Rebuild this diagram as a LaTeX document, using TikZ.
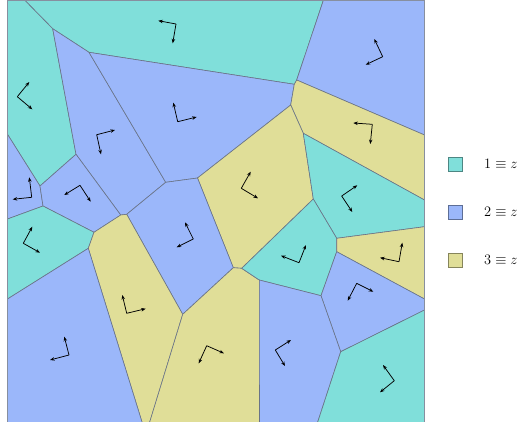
\documentclass[tikz,border=0pt]{standalone}
\usepackage{amsmath}
\usepackage{amssymb}
\usepackage{xcolor}
\usepackage{tikz}
\usetikzlibrary{positioning,arrows.meta}
\definecolor{cellcyan}{RGB}{128, 223, 218}
\definecolor{cellblue}{RGB}{155, 183, 250}
\definecolor{cellyellow}{RGB}{224, 222, 152}
\definecolor{celledge}{RGB}{105, 115, 135}

\newcommand{\rotframe}[3]{%
  \draw[axis] #1 -- #2;
  \draw[axis] #1 -- #3;}

\begin{document}
\begin{tikzpicture}[x=1pt, y=-1pt,
  cell/.style={draw=celledge, line width=0.6pt, line join=round},
  axis/.style={-{Stealth[length=4.5pt, width=3.5pt]}, line width=0.75pt, black},
  legbox/.style={draw=#1!60!black, fill=#1, line width=0.7pt, minimum size=14pt, inner sep=0pt, outer sep=0pt},
  legtext/.style={inner sep=0pt, font=\fontsize{15.5}{18}\selectfont}]
\clip (0,0) rectangle (522,421);

% border points
\coordinate (tl) at (7.5,0.5);
\coordinate (tr) at (424.5,0.5);
\coordinate (bl) at (7.5,423);
\coordinate (br) at (424.5,423);
\coordinate (t1) at (25,0.5);
\coordinate (t2) at (323.3,0.5);
\coordinate (l1) at (7.5,134.3);
\coordinate (l2) at (7.5,219);
\coordinate (l3) at (7.5,299);
\coordinate (r1) at (424.5,135);
\coordinate (r2) at (424.5,200);
\coordinate (r3) at (424.5,226.7);
\coordinate (r4) at (424.5,299);
\coordinate (r5) at (424.5,310);
\coordinate (b1) at (142.3,423);
\coordinate (b2) at (149.4,423);
\coordinate (b3) at (259.5,423);
\coordinate (b4) at (317.4,423);

% inner vertices
\coordinate (a) at (52.7,28.7);
\coordinate (b) at (89,52.3);
\coordinate (c1) at (296.7,80);
\coordinate (c2) at (294.3,84.3);
\coordinate (d) at (76,154.3);
\coordinate (e) at (40,186);
\coordinate (f1) at (120.7,215);
\coordinate (f2) at (126.7,214.3);
\coordinate (g) at (43,206);
\coordinate (h) at (94,232.3);
\coordinate (i) at (165.7,182.3);
\coordinate (j) at (182.7,314.3);
\coordinate (k) at (88.3,248.3);
\coordinate (l) at (233.3,267.7);
\coordinate (lb) at (241.7,268.3);
\coordinate (m) at (197.5,178);
\coordinate (n) at (290.7,105);
\coordinate (o) at (303.3,133.3);
\coordinate (q) at (313.3,199);
\coordinate (r) at (336.7,238.3);
\coordinate (rb) at (336.7,251.7);
\coordinate (s) at (321,295.7);
\coordinate (t) at (259.3,280);
\coordinate (u) at (340.7,351.7);

% cells
\filldraw[cell, fill=cellcyan] (t1) -- (t2) -- (c1) -- (c2) -- (b) -- (a) -- cycle;
\filldraw[cell, fill=cellcyan] (tl) -- (t1) -- (a) -- (d) -- (e) -- (l1) -- cycle;
\filldraw[cell, fill=cellblue] (a) -- (b) -- (i) -- (f2) -- (f1) -- (d) -- cycle;
\filldraw[cell, fill=cellblue] (b) -- (c2) -- (n) -- (m) -- (i) -- cycle;
\filldraw[cell, fill=cellblue] (t2) -- (tr) -- (r1) -- (c1) -- cycle;
\filldraw[cell, fill=cellyellow] (c1) -- (r1) -- (r2) -- (o) -- (n) -- (c2) -- cycle;
\filldraw[cell, fill=cellblue] (l1) -- (e) -- (g) -- (l2) -- cycle;
\filldraw[cell, fill=cellblue] (e) -- (d) -- (f1) -- (h) -- (g) -- cycle;
\filldraw[cell, fill=cellyellow] (m) -- (n) -- (o) -- (q) -- (lb) -- (l) -- cycle;
\filldraw[cell, fill=cellcyan] (o) -- (r2) -- (r3) -- (r) -- (q) -- cycle;
\filldraw[cell, fill=cellcyan] (l2) -- (g) -- (h) -- (k) -- (l3) -- cycle;
\filldraw[cell, fill=cellblue] (i) -- (m) -- (l) -- (j) -- (f2) -- cycle;
\filldraw[cell, fill=cellyellow] (f1) -- (f2) -- (j) -- (b2) -- (b1) -- (k) -- (h) -- cycle;
\filldraw[cell, fill=cellblue] (l3) -- (k) -- (b1) -- (bl) -- cycle;
\filldraw[cell, fill=cellyellow] (j) -- (l) -- (lb) -- (t) -- (b3) -- (b2) -- cycle;
\filldraw[cell, fill=cellcyan] (q) -- (r) -- (rb) -- (s) -- (t) -- (lb) -- cycle;
\filldraw[cell, fill=cellyellow] (r) -- (r3) -- (r4) -- (rb) -- cycle;
\filldraw[cell, fill=cellblue] (rb) -- (r4) -- (r5) -- (u) -- (s) -- cycle;
\filldraw[cell, fill=cellblue] (t) -- (s) -- (u) -- (b4) -- (b3) -- cycle;
\filldraw[cell, fill=cellcyan] (u) -- (r5) -- (br) -- (b4) -- cycle;
\draw[draw=celledge!80, line width=0.8pt] (tl) rectangle (br);

% orientation frames
\rotframe{(176,24)}{(158.3,20.7)}{(172.7,43.3)}
\rotframe{(17.3,96.7)}{(29.3,82)}{(32.3,109.3)}
\rotframe{(177.7,121.7)}{(173.3,102.7)}{(196.7,117)}
\rotframe{(96.7,134.7)}{(115,130)}{(101,154.3)}
\rotframe{(31.7,197.3)}{(29.3,177.3)}{(12.7,199.3)}
\rotframe{(80,185.3)}{(64.3,195)}{(90.7,201.7)}
\rotframe{(382.7,56.7)}{(374.3,39)}{(365.7,64.7)}
\rotframe{(372.3,124.3)}{(353.3,123)}{(370.3,144)}
\rotframe{(241.3,188.3)}{(250.7,171.7)}{(258,198.3)}
\rotframe{(341.7,196)}{(357.3,185.3)}{(352.3,212)}
\rotframe{(23.3,243.3)}{(32.3,226.7)}{(40,252.7)}
\rotframe{(193.3,239)}{(185,222.3)}{(176.7,247.3)}
\rotframe{(126.7,313.3)}{(122.3,295)}{(145.7,308.7)}
\rotframe{(69,355)}{(64.3,336.7)}{(50,360)}
\rotframe{(206.7,345.7)}{(198.7,363.3)}{(224,353.3)}
\rotframe{(299,262.7)}{(306,245)}{(281,255.7)}
\rotframe{(399,261.7)}{(402.3,242.7)}{(380,257.7)}
\rotframe{(356.7,283.3)}{(373.3,291.7)}{(347.7,300.7)}
\rotframe{(275.3,350)}{(291,340)}{(285,366)}
\rotframe{(394.3,380.7)}{(383,365)}{(380,392.3)}

% legend
\node[legbox=cellcyan] (key1) at (455.5,164) {};
\node[legbox=cellblue] (key2) at (455.5,212) {};
\node[legbox=cellyellow] (key3) at (455.5,260) {};
\node[legtext, right=21.5pt of key1] (lab1) {$1\equiv z$};
\node[legtext, right=21.5pt of key2] (lab2) {$2\equiv z$};
\node[legtext, right=21.5pt of key3] (lab3) {$3\equiv z$};
\end{tikzpicture}
\end{document}
